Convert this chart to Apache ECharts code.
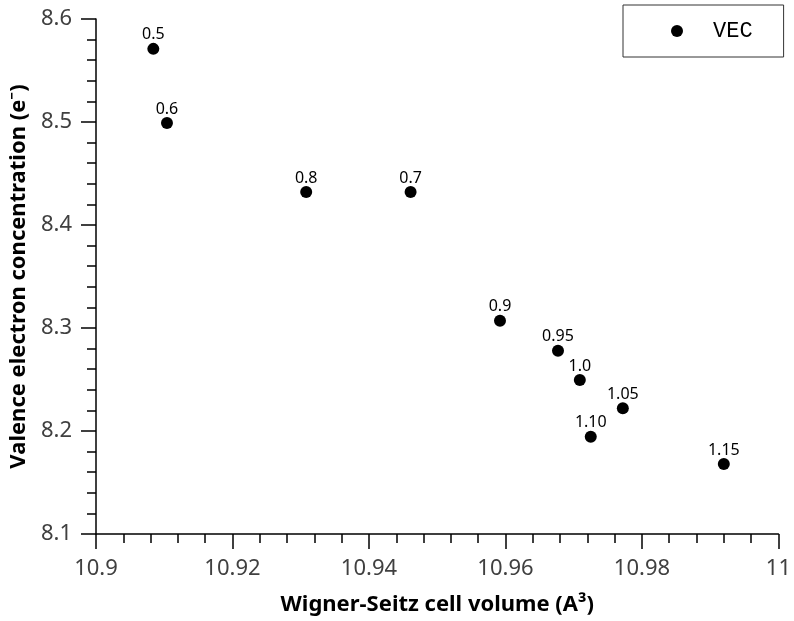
<!DOCTYPE html>
<html>
<head>
<meta charset="utf-8">
<script src="https://cdn.jsdelivr.net/npm/echarts@6/dist/echarts.min.js"></script>
<style>html,body{margin:0;padding:0;background:#fff;}#c{width:794px;height:621px;}</style>
</head>
<body>
<div id="c"></div>
<script>
const pointLabels = ['0.5','0.6','0.8','0.7','0.9','0.95','1.0','1.05','1.10','1.15'];
const wsVolume = [10.9084, 10.9104, 10.9308, 10.9461, 10.9592, 10.9677, 10.9709, 10.9772, 10.9725, 10.9920];
const vecValues = [8.571, 8.499, 8.432, 8.432, 8.307, 8.278, 8.2495, 8.222, 8.1945, 8.168];
const seriesName = 'VEC';
const xTickLabels = ['10.9','10.92','10.94','10.96','10.98','11'];
const yTickLabels = ['8.1','8.2','8.3','8.4','8.5','8.6'];

const data = wsVolume.map((x, i) => ({ value: [x, vecValues[i]], name: pointLabels[i] }));
const chart = echarts.init(document.getElementById('c'), null, { renderer: 'canvas' });
const tickFont = { fontFamily: 'Noto Sans', fontSize: 22, color: '#404040' };
const nameFont = { fontFamily: 'Noto Sans', fontSize: 22, fontWeight: 'bold', color: '#000' };
chart.setOption({
  animation: false,
  backgroundColor: '#fff',
  grid: { left: 96, right: 15, top: 19, bottom: 87 },
  legend: {
    data: [seriesName],
    left: 623, top: 5,
    padding: [15, 31, 15, 48],
    borderColor: '#333', borderWidth: 1,
    itemWidth: 12, itemHeight: 12,
    icon: 'circle',
    itemStyle: { color: '#000', opacity: 1 },
    textStyle: { fontFamily: '"Liberation Mono", "Courier New", monospace', fontSize: 22, color: '#000', padding: [0, 0, 0, 25] }
  },
  xAxis: {
    type: 'value', min: 10.9, max: 11, interval: 0.02,
    name: 'Wigner-Seitz cell volume (A³)', nameLocation: 'middle', nameGap: 60,
    nameTextStyle: nameFont,
    axisLine: { onZero: false, lineStyle: { color: '#000', width: 1.5 } },
    axisTick: { inside: false, length: 15, lineStyle: { color: '#000', width: 1.5 } },
    minorTick: { show: true, splitNumber: 5, length: 9, lineStyle: { color: '#000', width: 1.5 } },
    splitLine: { show: false },
    axisLabel: Object.assign({ margin: 24, formatter: (v) => { const i = Math.round((v - 10.9) / 0.02); return xTickLabels[i] || ''; } }, tickFont)
  },
  yAxis: {
    type: 'value', min: 8.1, max: 8.6, interval: 0.1,
    name: 'Valence electron concentration (e⁻)', nameLocation: 'middle', nameGap: 61,
    nameTextStyle: nameFont,
    axisLine: { show: true, onZero: false, lineStyle: { color: '#000', width: 1.5 } },
    axisTick: { show: true, inside: false, length: 15, lineStyle: { color: '#000', width: 1.5 } },
    minorTick: { show: true, splitNumber: 5, length: 9, lineStyle: { color: '#000', width: 1.5 } },
    splitLine: { show: false },
    axisLabel: Object.assign({ margin: 24, formatter: (v) => { const i = Math.round((v - 8.1) / 0.1); return yTickLabels[i] || ''; } }, tickFont)
  },
  series: [{
    name: seriesName,
    type: 'scatter',
    symbol: 'circle',
    symbolSize: 12,
    itemStyle: { color: '#000', opacity: 1 },
    data: data,
    label: {
      show: true, position: 'top', distance: 0,
      formatter: (p) => p.name,
      fontFamily: 'Noto Sans', fontSize: 16, lineHeight: 16, color: '#000'
    }
  }]
});
</script>
</body>
</html>
